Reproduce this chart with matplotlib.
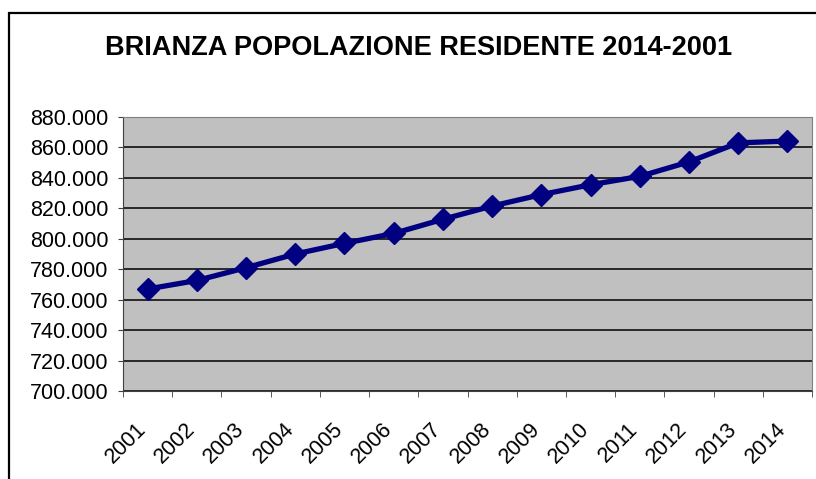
import matplotlib.pyplot as plt
from matplotlib.patches import Rectangle
from matplotlib.ticker import FuncFormatter, MultipleLocator, FixedLocator
from matplotlib.transforms import ScaledTranslation

years = ['2001', '2002', '2003', '2004', '2005', '2006', '2007',
         '2008', '2009', '2010', '2011', '2012', '2013', '2014']
population = [767000, 772600, 781000, 790000, 797000, 803500, 812800,
              821500, 829000, 835500, 841000, 850500, 863000, 864200]

plt.rcParams['font.family'] = ['Liberation Sans', 'DejaVu Sans']

fig = plt.figure(figsize=(8.16, 4.79), dpi=100)
W, H = 816, 479

# outer chart border (Excel chart area), bottom/right run off the canvas
fig.patches.append(Rectangle((9 / W, -0.1), 1.1, 1.1 - 13 / H,
                             transform=fig.transFigure, fill=False,
                             edgecolor='black', linewidth=1.6))

ax = fig.add_axes([123 / W, 1 - 391 / H, (812 - 123) / W, (391 - 117) / H])
ax.set_facecolor('#c0c0c0')

x = list(range(len(years)))
ax.plot(x, population, color='#000080', linewidth=3.8, marker='D',
        markersize=11.5, zorder=3)

ax.set_xlim(-0.5, len(years) - 0.5)
ax.set_ylim(700000, 880000)
ax.yaxis.set_major_locator(MultipleLocator(20000))
ax.yaxis.set_major_formatter(FuncFormatter(lambda v, p: f"{v:,.0f}".replace(',', '.')))
ax.grid(axis='y', color='black', linewidth=1.1)
ax.set_axisbelow(True)

ax.xaxis.set_major_locator(FixedLocator(x))
ax.set_xticklabels(years, rotation=45, ha='right', rotation_mode='anchor')
ax.tick_params(axis='x', which='major', length=0, pad=20, labelsize=15.5)
ax.xaxis.set_minor_locator(FixedLocator([i - 0.5 for i in range(len(years) + 1)]))
ax.tick_params(axis='x', which='minor', length=4, color='#404040', direction='out')
ax.tick_params(axis='y', length=3.6, color='#404040', labelsize=15.5, pad=7)

shift = ScaledTranslation(-12 / 100, 0, fig.dpi_scale_trans)
for lab in ax.get_xticklabels():
    lab.set_transform(lab.get_transform() + shift)

for s in ['top', 'right']:
    ax.spines[s].set_color('#808080')
for s in ['left', 'bottom']:
    ax.spines[s].set_color('#404040')

fig.text(419 / W, 1 - 48 / H, 'BRIANZA POPOLAZIONE RESIDENTE 2014-2001',
         ha='center', va='center', fontsize=19.5, fontweight='bold')

fig.savefig('out.png', dpi=100)
